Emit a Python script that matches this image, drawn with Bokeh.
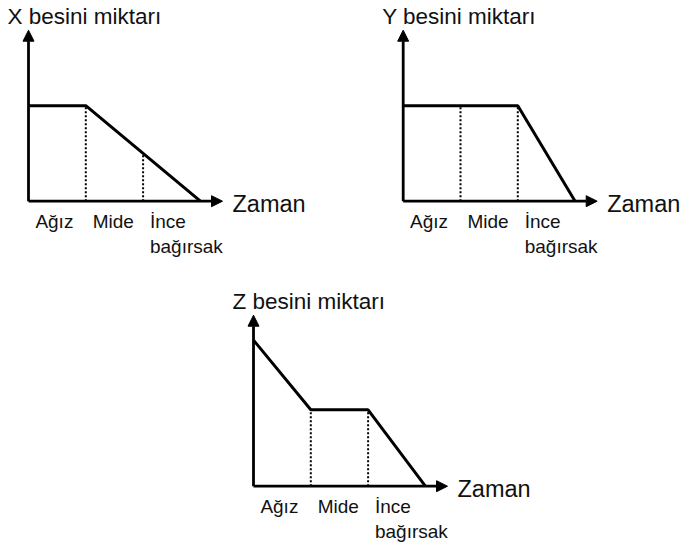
from bokeh.plotting import figure
from bokeh.layouts import column, row
from bokeh.models import Range1d, Arrow, NormalHead, Spacer
from bokeh.core.properties import value
from bokeh.embed import file_html
from bokeh.resources import INLINE

# ---- data ----
stages = ["Ağız", "Mide", "İnce\nbağırsak"]
t = [0, 1, 2, 3]
x_amount = [1.0, 1.0, 0.5, 0.0]
y_amount = [1.0, 1.0, 1.0, 0.0]
z_amount = [1.53, 0.8, 0.8, 0.0]
titles = ["X besini miktarı", "Y besini miktarı", "Z besini miktarı"]
xlabel = "Zaman"

# ---- layout constants (pixels) ----
SEG = 57.3    # px per stage
UNIT = 95.5   # px per amount unit
FONT = "Liberation Sans"
INK = "#111111"


def panel(title, amounts, w, h, ox, oy):
    p = figure(width=w, height=h, output_backend="svg", toolbar_location=None,
               x_axis_location=None, y_axis_location=None, min_border=0,
               x_range=Range1d(-ox / SEG, (w - ox) / SEG),
               y_range=Range1d(-(h - oy) / UNIT, oy / UNIT))
    p.grid.visible = False
    p.outline_line_color = None
    # axes with arrow heads
    xt = 194 / SEG
    yt = 171 / UNIT
    p.add_layout(Arrow(x_start=0, y_start=0, x_end=xt, y_end=0, line_width=2.8,
                       end=NormalHead(size=11, fill_color="black", line_color="black")))
    p.add_layout(Arrow(x_start=0, y_start=0, x_end=0, y_end=yt, line_width=2.8,
                       end=NormalHead(size=11, fill_color="black", line_color="black")))
    # dotted stage boundaries
    p.segment(x0=t[1:3], y0=[0, 0], x1=t[1:3], y1=amounts[1:3],
              line_color="black", line_width=2, line_dash="2 2")
    # amount line
    p.line(t, amounts, line_color="black", line_width=3)
    # stage labels
    p.text(x=[i + 0.12 for i in range(len(stages))], y=[-10 / UNIT] * len(stages),
           text=stages, text_font=value(FONT), text_font_size="19px",
           text_align="left", text_baseline="top", text_color=INK)
    # titles
    p.text(x=[-21 / SEG], y=[185 / UNIT], text=[title], text_font=value(FONT),
           text_font_size="22.5px", text_align="left", text_baseline="middle",
           text_color=INK)
    p.text(x=[xt + 10 / SEG], y=[-2.5 / UNIT], text=[xlabel], text_font=value(FONT),
           text_font_size="23.5px", text_align="left", text_baseline="middle",
           text_color=INK)
    return p


pa = panel(titles[0], x_amount, 340, 270, 28, 200.7)
pb = panel(titles[1], y_amount, 340, 270, 62.7, 200.7)
pc = panel(titles[2], z_amount, 330, 272, 43, 215.7)

layout = column(row(pa, pb), row(Spacer(width=210, height=272), pc))
open("out.html", "w").write(file_html(layout, INLINE))
